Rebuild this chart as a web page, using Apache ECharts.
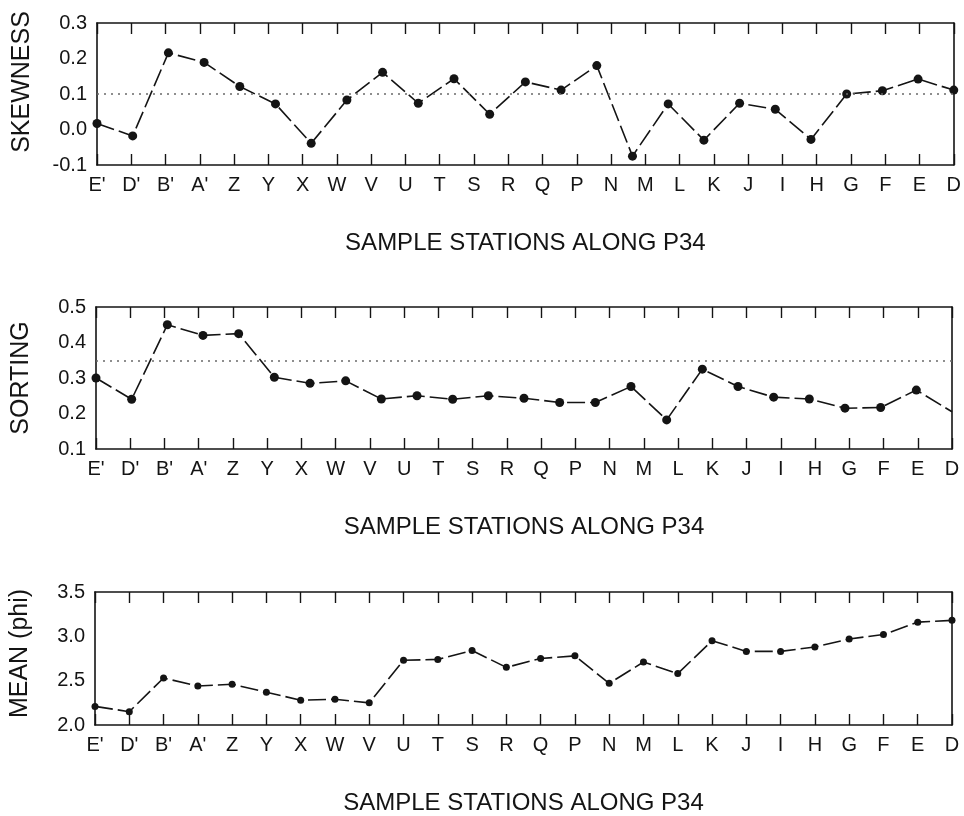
<!DOCTYPE html>
<html>
<head>
<meta charset="utf-8">
<title>Grain-size statistics along P34</title>
<script src="https://cdn.jsdelivr.net/npm/echarts@6/dist/echarts.min.js"></script>
<style>
  html, body { margin: 0; padding: 0; background: #ffffff; }
  #chart { width: 964px; height: 816px; }
</style>
</head>
<body>
<div id="chart"></div>
<script>
// Station labels along the transect (tick labels on every panel)
const stations = ["E'", "D'", "B'", "A'", "Z", "Y", "X", "W", "V", "U", "T", "S", "R",
                  "Q", "P", "N", "M", "L", "K", "J", "I", "H", "G", "F", "E", "D"];

// Sample sequence used by the skewness and sorting profiles (25 samples)
const sampleNo = [1, 2, 3, 4, 5, 6, 7, 8, 9, 10, 11, 12, 13, 14, 15, 16, 17, 18, 19, 20, 21, 22, 23, 24, 25];

// Skewness, one value per sample
const skewness = [0.017, -0.018, 0.216, 0.189, 0.121, 0.072, -0.039, 0.083, 0.161, 0.074, 0.143, 0.043,
                  0.134, 0.111, 0.180, -0.075, 0.072, -0.030, 0.074, 0.057, -0.028, 0.100, 0.109, 0.142, 0.111];

// Sorting (standard deviation, phi), one value per sample
const sorting = [0.300, 0.240, 0.450, 0.420, 0.425, 0.302, 0.285, 0.292, 0.241, 0.250, 0.240, 0.250,
                 0.243, 0.231, 0.231, 0.276, 0.182, 0.325, 0.276, 0.246, 0.241, 0.215, 0.217, 0.266, 0.205];

// Mean grain size (phi), one value per station
const meanPhi = [2.21, 2.15, 2.53, 2.44, 2.46, 2.37, 2.28, 2.29, 2.25, 2.73, 2.74, 2.84, 2.65,
                 2.75, 2.78, 2.47, 2.71, 2.58, 2.95, 2.83, 2.83, 2.88, 2.97, 3.02, 3.16, 3.18];

// Reference levels (dotted lines)
const skewnessRef = 0.1;
const sortingRef = 0.355;

// Y-axis scales
const skewScale = { min: -0.1, max: 0.3, interval: 0.1 };
const sortScale = { min: 0.1, max: 0.5, interval: 0.1 };
const meanScale = { min: 2.0, max: 3.5, interval: 0.5 };

const xTitle = 'SAMPLE STATIONS ALONG P34';
const ink = '#141414';
const font = '"Liberation Sans", Arial, Helvetica, sans-serif';

const grids = [
  { left: 97, top: 23, width: 858, height: 142 },
  { left: 96, top: 307, width: 856, height: 142 },
  { left: 95, top: 592, width: 857, height: 141 }
];

const axisLine = { show: true, onZero: false, lineStyle: { color: ink, width: 1.6 } };
const tickStyle = { color: ink, width: 1.4 };

const xAxes = [];
const yAxes = [];

function stationAxes(gridIndex) {
  xAxes.push({
    type: 'category', gridIndex, position: 'bottom', data: stations, boundaryGap: false,
    axisLine, axisTick: { inside: true, length: 11, lineStyle: tickStyle },
    axisLabel: { fontSize: 20, color: ink, fontFamily: font, margin: 10, interval: 0 },
    splitLine: { show: false },
    name: xTitle, nameLocation: 'middle', nameGap: 66,
    nameTextStyle: { fontSize: 24, color: ink, fontFamily: font }
  });
  xAxes.push({
    type: 'category', gridIndex, position: 'top', data: stations, boundaryGap: false,
    axisLine, axisTick: { inside: true, length: 11, lineStyle: tickStyle },
    axisLabel: { show: false }, splitLine: { show: false }
  });
}

// shiftUp moves the rotated axis title towards the top of its panel
function valueAxes(gridIndex, scale, name, digits, shiftUp) {
  const common = {
    type: 'value', gridIndex, min: scale.min, max: scale.max, interval: scale.interval,
    axisLine, splitLine: { show: false }
  };
  yAxes.push(Object.assign({}, common, {
    position: 'left',
    axisTick: { inside: true, length: 10, lineStyle: tickStyle },
    axisLabel: { fontSize: 20, color: ink, fontFamily: font, margin: 10,
                 formatter: v => v.toFixed(digits) },
    name, nameLocation: 'middle', nameGap: 62,
    nameTextStyle: { fontSize: 25, color: ink, fontFamily: font,
                     padding: [0, 0, 0, shiftUp * 2] }
  }));
  yAxes.push(Object.assign({}, common, {
    position: 'right',
    axisTick: { inside: true, length: 10, lineStyle: tickStyle },
    axisLabel: { show: false }
  }));
}

// Panel 1: skewness
stationAxes(0);
xAxes.push({ type: 'category', gridIndex: 0, data: sampleNo, boundaryGap: false, show: false });
valueAxes(0, skewScale, 'SKEWNESS', 1, 12);

// Panel 2: sorting
stationAxes(1);
xAxes.push({ type: 'category', gridIndex: 1, data: sampleNo, boundaryGap: false, show: false });
valueAxes(1, sortScale, 'SORTING', 1, 0);

// Panel 3: mean
stationAxes(2);
valueAxes(2, meanScale, 'MEAN (phi)', 1, 5);

const lineStyle = { color: ink, width: 1.6, type: [18, 5] };
const refLine = value => ({
  silent: true, symbol: 'none', label: { show: false },
  lineStyle: { color: '#6a6a6a', width: 1.5, type: [2, 5] },
  data: [{ yAxis: value }]
});

const sortingData = sorting.map((v, i) =>
  i === sorting.length - 1 ? { value: v, symbol: 'none' } : v);

const option = {
  backgroundColor: '#ffffff',
  animation: false,
  grid: grids,
  xAxis: xAxes,
  yAxis: yAxes,
  series: [
    {
      name: 'Skewness', type: 'line', xAxisIndex: 2, yAxisIndex: 0, data: skewness,
      symbol: 'circle', symbolSize: 9, itemStyle: { color: ink }, lineStyle, clip: false,
      markLine: refLine(skewnessRef)
    },
    {
      name: 'Sorting', type: 'line', xAxisIndex: 5, yAxisIndex: 2, data: sortingData,
      symbol: 'circle', symbolSize: 9, itemStyle: { color: ink }, lineStyle, clip: false,
      markLine: refLine(sortingRef)
    },
    {
      name: 'Mean', type: 'line', xAxisIndex: 6, yAxisIndex: 4, data: meanPhi,
      symbol: 'circle', symbolSize: 7, itemStyle: { color: ink }, lineStyle, clip: false
    }
  ]
};

const chart = echarts.init(document.getElementById('chart'), null, { renderer: 'canvas' });
chart.setOption(option);
</script>
</body>
</html>
